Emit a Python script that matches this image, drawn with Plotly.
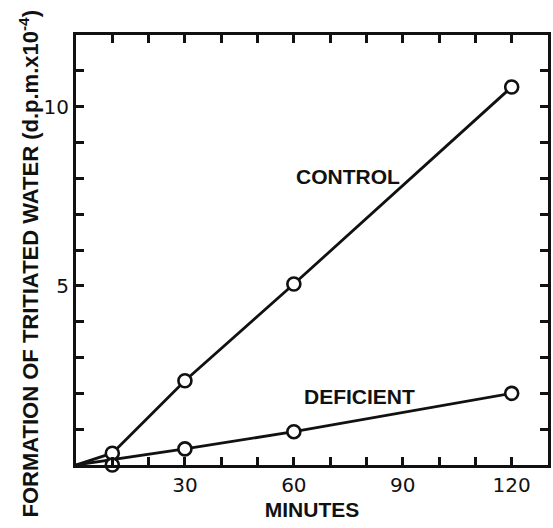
import plotly.graph_objects as go

# Time points (minutes) and tritiated water formed (d.p.m. x 10^-4)
minutes = [10, 30, 60, 120]
control = [0.33, 2.35, 5.05, 10.55]
deficient = [0.0, 0.45, 0.93, 2.0]

# Lines are drawn from the origin
control_line_x = [0, 10, 30, 60, 120]
control_line_y = [0, 0.33, 2.35, 5.05, 10.55]
deficient_line_x = [0, 30, 60, 120]
deficient_line_y = [0, 0.45, 0.93, 2.0]

x_ticks = list(range(0, 131, 10))
x_labels = ["" if v not in (30, 60, 90, 120) else str(v) for v in x_ticks]
y_ticks = list(range(0, 13))
y_labels = ["" if v not in (5, 10) else str(v) for v in y_ticks]

TICK_FONT = "DejaVu Sans"
LABEL_FONT = "Liberation Sans"
ink = "#111111"

fig = go.Figure()
for lx, ly in [(control_line_x, control_line_y), (deficient_line_x, deficient_line_y)]:
    fig.add_trace(go.Scatter(x=lx, y=ly, mode="lines",
                             line=dict(color=ink, width=2.8),
                             hoverinfo="skip", showlegend=False, cliponaxis=False))
for yv in (control, deficient):
    fig.add_trace(go.Scatter(x=minutes, y=yv, mode="markers",
                             marker=dict(symbol="circle", size=13, color="white",
                                         line=dict(color=ink, width=2.6)),
                             showlegend=False, cliponaxis=False))

fig.add_annotation(x=75, y=8.04, text="<b>CONTROL</b>", showarrow=False,
                   font=dict(family=LABEL_FONT, size=21, color=ink))
fig.add_annotation(x=78, y=1.9, text="<b>DEFICIENT</b>", showarrow=False,
                   font=dict(family=LABEL_FONT, size=21, color=ink))

# vertical axis title
fig.add_annotation(xref="paper", yref="paper", x=-0.099, y=0.467,
                   xanchor="center", yanchor="middle", textangle=-90, showarrow=False,
                   text="<b>FORMATION OF TRITIATED WATER (d.p.m.x10<sup>-4</sup>)</b>",
                   font=dict(family=LABEL_FONT, size=22, color=ink))

axis_common = dict(showgrid=False, zeroline=False, showline=True, linecolor=ink,
                   linewidth=3, mirror="ticks", ticks="inside", ticklen=8,
                   tickwidth=2.5, tickcolor=ink,
                   tickfont=dict(family=TICK_FONT, size=20, color=ink))

fig.update_xaxes(range=[0, 130], tickmode="array", tickvals=x_ticks, ticktext=x_labels,
                 title=dict(text="<b>MINUTES</b>",
                            font=dict(family=LABEL_FONT, size=21, color=ink), standoff=7),
                 **axis_common)
fig.update_yaxes(range=[0, 12], tickmode="array", tickvals=y_ticks, ticktext=y_labels,
                 **axis_common)

fig.update_layout(width=553, height=528, margin=dict(l=76, r=2, t=35, b=63),
                  plot_bgcolor="white", paper_bgcolor="white")

fig.write_html("out.html")
